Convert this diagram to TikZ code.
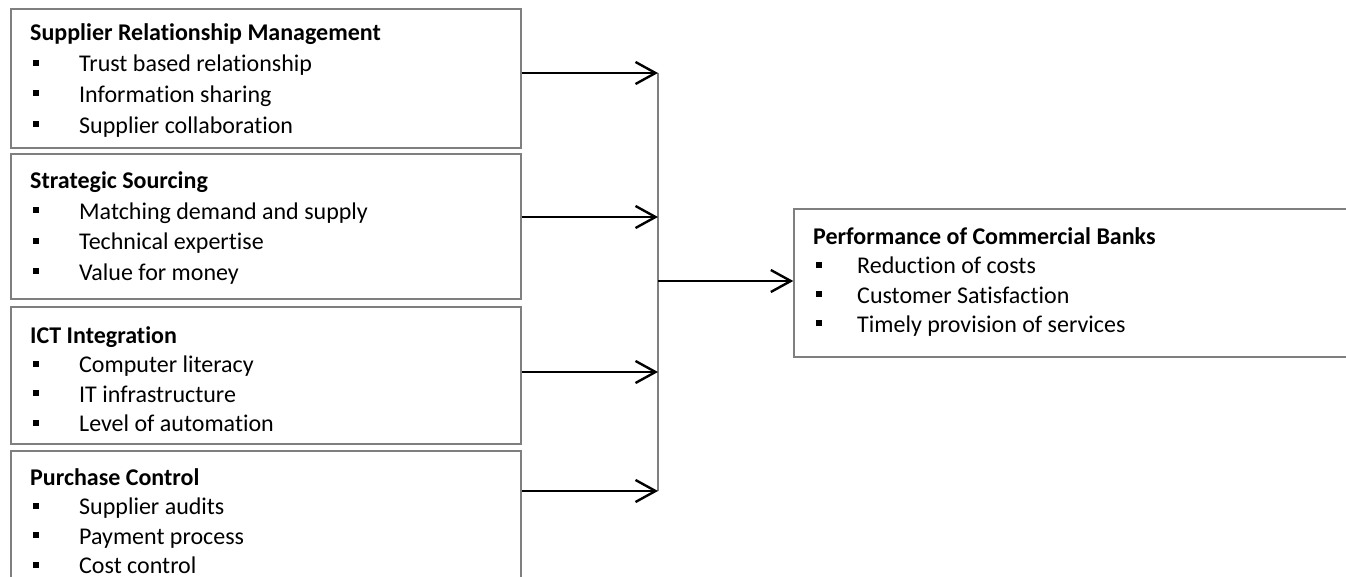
\documentclass[tikz,border=0pt]{standalone}
\usepackage{fontspec}
\setmainfont{Carlito}[Ligatures=CommonOff]
\usetikzlibrary{arrows.meta, positioning}
\definecolor{BoxGray}{HTML}{7F7F7F}
\newcommand{\sqitem}[2][49pt]{\makebox[#1][l]{\hspace*{3pt}\rule[6pt]{6pt}{6pt}}#2}
\newcommand{\boxfont}{\fontsize{24}{30.5}\selectfont}

\begin{document}
\begin{tikzpicture}[x=1pt, y=-1pt,
    block/.style={draw=BoxGray, line width=1.4pt, inner sep=0pt},
    headtext/.style={font=\boxfont\bfseries, anchor=base west, inner sep=0pt},
    itemtext/.style={font=\boxfont, anchor=base west, inner sep=0pt},
    flow/.style={line width=2.4pt, -{Straight Barb[length=20pt, width=22pt]}},
    junction/.style={draw=BoxGray, line width=1.5pt}]
  \useasboundingbox (0,0) rectangle (1346,577);
  \clip (0,0) rectangle (1346,577);

  % Input boxes
  \node[block, minimum width=510pt, minimum height=139pt] (srm) at (266,78.5) {};
  \node[headtext] (srmhead) at (30,41) {Supplier Relationship Management};
  \foreach \txt [count=\i] in {Trust based relationship, Information sharing, Supplier collaboration}
    \node[itemtext] (srm-\i) at (30,{41+30.7*\i}) {\sqitem{\txt}};

  \node[block, minimum width=510pt, minimum height=145pt] (ss) at (266,226.5) {};
  \node[headtext] (sshead) at (30,189) {Strategic Sourcing};
  \foreach \txt [count=\i] in {Matching demand and supply, Technical expertise, Value for money}
    \node[itemtext] (ss-\i) at (30,{189+30.5*\i}) {\sqitem{\txt}};

  \node[block, minimum width=510pt, minimum height=137pt] (ict) at (266,375.5) {};
  \node[headtext] (icthead) at (30,343) {ICT Integration};
  \foreach \txt [count=\i] in {Computer literacy, IT infrastructure, Level of automation}
    \node[itemtext] (ict-\i) at (30,{343+29.5*\i}) {\sqitem{\txt}};

  \node[block, minimum width=510pt, minimum height=139pt] (pc) at (266,520.5) {};
  \node[headtext] (pchead) at (30,485) {Purchase Control};
  \foreach \txt [count=\i] in {Supplier audits, Payment process, Cost control}
    \node[itemtext] (pc-\i) at (30,{485+29.5*\i}) {\sqitem{\txt}};

  % Output box
  \node[block, minimum width=566pt, minimum height=148pt] (perf) at (1077,283) {};
  \node[headtext] (perfhead) at (813,245) {Performance of Commercial Banks};
  \foreach \txt [count=\i] in {Reduction of costs, Customer Satisfaction, Timely provision of services}
    \node[itemtext] (perf-\i) at (813,{245+29*\i}) {\sqitem[44pt]{\txt}};

  % Connectors
  \coordinate (j1) at (658,73);
  \coordinate (j2) at (658,217);
  \coordinate (j3) at (658,372);
  \coordinate (j4) at (658,491);
  \coordinate (jm) at (658,281);
  \draw[junction] (j1) -- (j4);
  \draw[flow] (j1 -| srm.east) -- (j1);
  \draw[flow] (j2 -| ss.east) -- (j2);
  \draw[flow] (j3 -| ict.east) -- (j3);
  \draw[flow] (j4 -| pc.east) -- (j4);
  \draw[flow] (jm) -- (jm -| perf.west);
\end{tikzpicture}
\end{document}
